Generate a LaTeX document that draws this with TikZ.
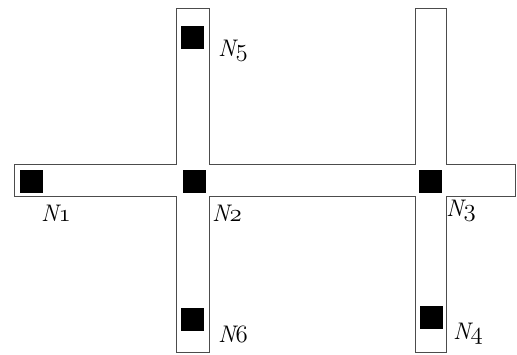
\documentclass[tikz,border=0pt]{standalone}
\newcommand\osnum[1]{{\fontencoding{OML}\fontfamily{cmm}\fontseries{m}\fontshape{it}\selectfont #1}}
\begin{document}
\begin{tikzpicture}[x=1pt,y=-1pt,
  outline/.style={draw=black!70,line width=1pt,fill=white},
  sq/.style={fill=black,draw=none,minimum width=23pt,minimum height=23pt,inner sep=0pt},
  lab/.style={inner sep=0pt,font=\fontsize{24}{28}\selectfont\itshape}]
\useasboundingbox (0,0) rectangle (517,354);
\draw[outline] (14,164) -- (176,164) -- (176,8) -- (209,8) -- (209,164) -- (415,164) -- (415,8) -- (446,8) -- (446,164) -- (515,164) -- (515,196) -- (446,196) -- (446,352) -- (415,352) -- (415,196) -- (209,196) -- (209,352) -- (176,352) -- (176,196) -- (14,196) -- cycle;
\node[sq] (s1) at (31.5,181) {};
\node[sq] (s2) at (194,181) {};
\node[sq] (s3) at (430,181) {};
\node[sq] (s4) at (431,317.5) {};
\node[sq] (s5) at (192.5,37.5) {};
\node[sq] (s6) at (192.5,319.5) {};
\node[lab] (l1) at (56,213) {N\osnum{1}};
\node[lab] (l2) at (227,213) {N\osnum{2}};
\node[lab] (l3) at (461,211) {N\osnum{3}};
\node[lab] (l4) at (468,334) {N\osnum{4}};
\node[lab] (l5) at (233,51) {N\osnum{5}};
\node[lab] (l6) at (233,334) {N\osnum{6}};
\end{tikzpicture}
\end{document}
